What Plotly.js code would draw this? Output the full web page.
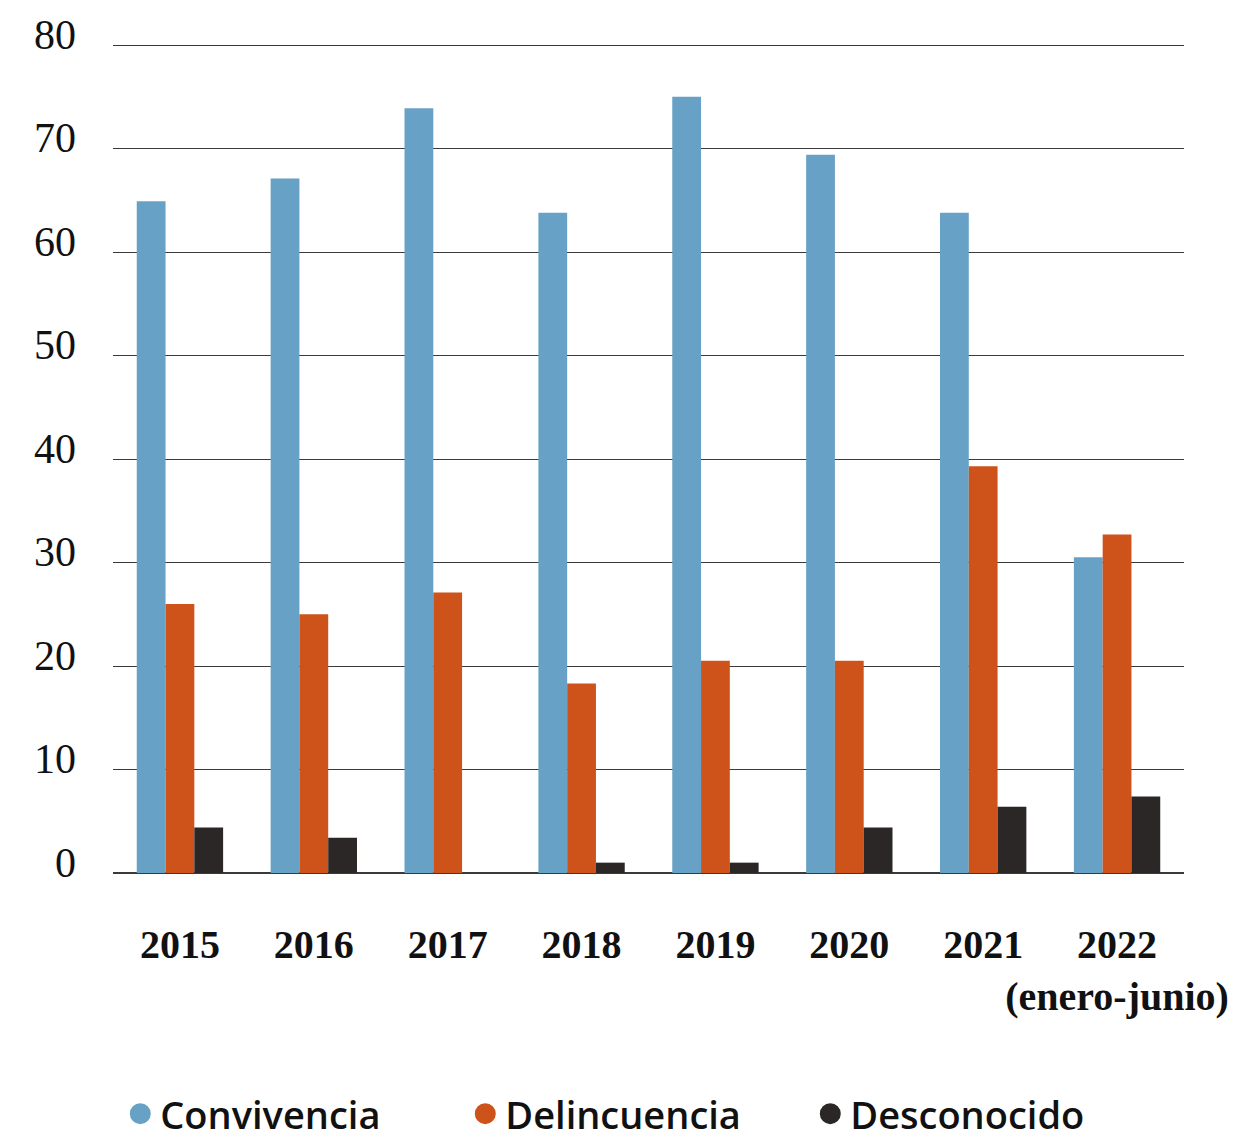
<!DOCTYPE html>
<html>
<head>
<meta charset="utf-8">
<script src="https://cdn.plot.ly/plotly-3.0.1.min.js"></script>
<style>body{margin:0;padding:0;background:#fff}#chart{width:1236px;height:1146px}</style>
</head>
<body>
<div id="chart"></div>
<script>
var categories = ["2015","2016","2017","2018","2019","2020","2021","2022<br>(enero-junio)"];
var convivencia = [64.9, 67.1, 73.9, 63.8, 75.0, 69.4, 63.8, 30.5];
var delincuencia = [26.0, 25.0, 27.1, 18.3, 20.5, 20.5, 39.3, 32.7];
var desconocido = [4.4, 3.4, 0, 1.0, 1.0, 4.4, 6.4, 7.4];
var seriesNames = ["Convivencia", "Delincuencia", "Desconocido"];
var seriesColors = ["#67a2c6", "#cd531a", "#2b2726"];
var yTicks = [0, 10, 20, 30, 40, 50, 60, 70, 80];

var allValues = [convivencia, delincuencia, desconocido];
var traces = [];
allValues.forEach(function(vals, i){
  traces.push({
    type: "bar", x: categories, y: vals, name: seriesNames[i],
    marker: {color: seriesColors[i], line: {width: 0}},
    showlegend: false, hoverinfo: "x+y+name"
  });
});
seriesNames.forEach(function(n, i){
  traces.push({
    type: "scatter", mode: "markers", x: [null], y: [null], name: n,
    marker: {color: seriesColors[i], size: 16, symbol: "circle", line: {color: seriesColors[i], width: 5}},
    showlegend: true, hoverinfo: "skip"
  });
});

var layout = {
  width: 1236, height: 1146,
  margin: {l: 113, r: 52, t: 42, b: 273, autoexpand: false},
  paper_bgcolor: "#fff", plot_bgcolor: "#fff",
  barmode: "group", bargap: 0.355, bargroupgap: 0,
  xaxis: {
    type: "category", showgrid: false, zeroline: false, showline: false,
    ticks: "", ticklabelstandoff: 44, tickangle: 0, automargin: false,
    tickfont: {family: "Liberation Serif", size: 40, color: "#111", weight: "bold"}
  },
  yaxis: {
    range: [0, 80.3], tickvals: yTicks, ticktext: yTicks.map(String),
    showgrid: true, gridcolor: "#3a3a3a", gridwidth: 1, automargin: false,
    zeroline: true, zerolinecolor: "#3a3a3a", zerolinewidth: 1.2,
    showline: false, ticks: "", ticklabelstandoff: 36, ticklabelshift: -11,
    tickfont: {family: "Liberation Serif", size: 42, color: "#111"}
  },
  legend: {
    orientation: "h", x: 0.49, xanchor: "center", y: -0.29, yanchor: "middle",
    font: {family: "Open Sans", size: 38, color: "#111", weight: 600},
    itemsizing: "trace", entrywidth: 300, entrywidthmode: "pixels",
    bgcolor: "rgba(0,0,0,0)"
  },
  showlegend: true
};

Plotly.newPlot("chart", traces, layout, {displayModeBar: false, staticPlot: true});
</script>
</body>
</html>
